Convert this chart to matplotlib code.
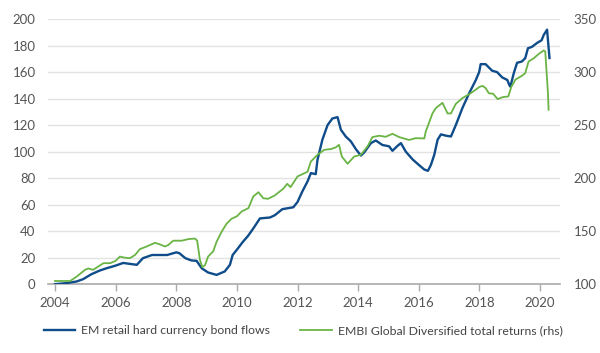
import numpy as np
from matplotlib import pyplot as plt

# EM retail hard currency bond flows (lhs)
blue_t = [2004.0, 2004.38, 2004.71, 2004.93, 2005.2, 2005.48, 2005.7, 2006.0, 2006.25, 2006.47,
          2006.7, 2006.9, 2007.2, 2007.7, 2008.0, 2008.1, 2008.3, 2008.5, 2008.67, 2008.84,
          2009.05, 2009.33, 2009.6, 2009.77, 2009.86, 2010.0, 2010.2, 2010.37, 2010.54, 2010.76,
          2011.09, 2011.25, 2011.5, 2011.86, 2012.0, 2012.16, 2012.33, 2012.44, 2012.6, 2012.66,
          2012.82, 2012.99, 2013.15, 2013.32, 2013.43, 2013.59, 2013.76, 2013.92, 2014.09, 2014.2,
          2014.42, 2014.58, 2014.8, 2015.02, 2015.13, 2015.3, 2015.41, 2015.57, 2015.8, 2016.02,
          2016.18, 2016.3, 2016.4, 2016.51, 2016.62, 2016.73, 2016.9, 2017.06, 2017.22, 2017.44,
          2017.66, 2017.88, 2017.99, 2018.04, 2018.2, 2018.42, 2018.58, 2018.75, 2018.92, 2018.99,
          2019.02, 2019.13, 2019.24, 2019.4, 2019.51, 2019.6, 2019.73, 2019.9, 2020.05, 2020.12,
          2020.23, 2020.31]
blue_v = [0, 0.8, 2, 3.8, 7.5, 10.3, 12, 14, 16, 15.3,
          14.6, 19.6, 22, 22, 24, 23.4, 19.6, 17.9, 17.6, 12,
          8.8, 7, 9.6, 14.6, 22, 26, 32, 36.5, 42, 49.6,
          50.3, 52, 56.6, 58, 62, 70, 77.5, 83.8, 83, 94,
          109, 120, 125, 126, 116.5, 111.4, 107.7, 102, 97, 99.4,
          106.4, 108.4, 105, 104, 100.6, 104.4, 106.4, 100, 94, 89.6,
          86.5, 85.5, 90, 97.6, 109, 113, 112, 111.4, 120, 133,
          144, 154, 160, 166, 166, 161, 160, 156, 154, 150,
          149, 159, 167, 168, 170.5, 178, 179, 182, 184, 188,
          192, 170.6]

# EMBI Global Diversified total returns (rhs)
green_t = [2004.0, 2004.5, 2004.71, 2004.99, 2005.1, 2005.26, 2005.43, 2005.6, 2005.82, 2006.0,
           2006.14, 2006.3, 2006.47, 2006.64, 2006.8, 2007.02, 2007.3, 2007.46, 2007.63, 2007.74,
           2007.9, 2008.18, 2008.4, 2008.62, 2008.69, 2008.78, 2008.86, 2008.95, 2009.05, 2009.22,
           2009.33, 2009.5, 2009.66, 2009.82, 2010.0, 2010.16, 2010.38, 2010.54, 2010.71, 2010.87,
           2011.03, 2011.25, 2011.53, 2011.66, 2011.77, 2012.0, 2012.33, 2012.44, 2012.66, 2012.88,
           2013.1, 2013.26, 2013.37, 2013.46, 2013.65, 2013.87, 2014.09, 2014.31, 2014.47, 2014.69,
           2014.91, 2015.13, 2015.35, 2015.68, 2015.9, 2016.18, 2016.23, 2016.45, 2016.56, 2016.78,
           2016.95, 2017.06, 2017.22, 2017.44, 2017.71, 2018.0, 2018.1, 2018.2, 2018.31, 2018.45,
           2018.6, 2018.77, 2018.95, 2019.05, 2019.19, 2019.4, 2019.51, 2019.62, 2019.79, 2019.95,
           2020.12, 2020.17, 2020.26, 2020.28]
green_v = [103, 103, 107, 113.5, 114.8, 113.5, 116.7, 119.8, 119.8, 122,
           126, 125, 124.5, 127.5, 133, 135.5, 139, 137.5, 135.5, 137,
           141, 141, 142.5, 143, 141, 123, 116, 118, 126, 131,
           140, 149.6, 157, 161.6, 164, 168.6, 171.7, 182.7, 186.7, 181,
           180.5, 183.7, 190, 194.6, 191.5, 201.6, 206, 215.7, 222, 226.7,
           227.4, 229, 231.4, 220.4, 213.5, 220.4, 222, 230, 238.7, 240,
           239, 241.8, 238.7, 236, 237.7, 237.4, 244, 261, 266, 271,
           261, 261, 270, 275.5, 280, 286, 287, 285, 280, 279.6,
           274.5, 276.4, 277, 286, 293, 296.5, 299, 310, 313, 317,
           320.4, 319.5, 280, 264.5]

years = [2004, 2006, 2008, 2010, 2012, 2014, 2016, 2018, 2020]

plt.rcParams['font.family'] = ['Lato', 'DejaVu Sans']
txt = '#555555'

fig = plt.figure(figsize=(6, 3.53), dpi=100)
ax = fig.add_axes([0.08, 0.195, 0.853, 0.751])
ax2 = ax.twinx()

ax.plot(blue_t, blue_v, c='#0f4c8a', lw=1.7, zorder=3, label='EM retail hard currency bond flows')
ax2.plot(green_t, green_v, c='#6ab445', lw=1.3, zorder=2, label='EMBI Global Diversified total returns (rhs)')

ax.set_xlim(2003.77, 2020.65)
ax.set_ylim(0, 200)
ax2.set_ylim(100, 350)
ax.set_yticks(range(0, 201, 20))
ax2.set_yticks(range(100, 351, 50))
ax.set_xticks(years)
ax.grid(axis='y', color='#e3e3e3', lw=1)
ax.set_axisbelow(True)

for a in (ax, ax2):
    for s in ('top', 'left', 'right'):
        a.spines[s].set_visible(False)
ax2.spines['bottom'].set_visible(False)
ax.spines['bottom'].set_color('#aaaaaa')
ax.spines['bottom'].set_linewidth(1.2)
ax.tick_params(axis='x', colors='#aaaaaa', length=5, width=1, labelcolor=txt, labelsize=9.5, pad=4)
ax.tick_params(axis='y', length=0, labelcolor=txt, labelsize=9.5, pad=9)
ax2.tick_params(axis='y', length=0, labelcolor=txt, labelsize=9.5, pad=10)

h1, l1 = ax.get_legend_handles_labels()
h2, l2 = ax2.get_legend_handles_labels()
leg = fig.legend(h1 + h2, l1 + l2, loc='center', bbox_to_anchor=(0.505, 0.063), ncol=2,
                 frameon=False, fontsize=8.8, handlelength=2.6, columnspacing=2.4, handletextpad=0.5)
for t in leg.get_texts():
    t.set_color('#444444')

plt.savefig('out.png', dpi=100)
